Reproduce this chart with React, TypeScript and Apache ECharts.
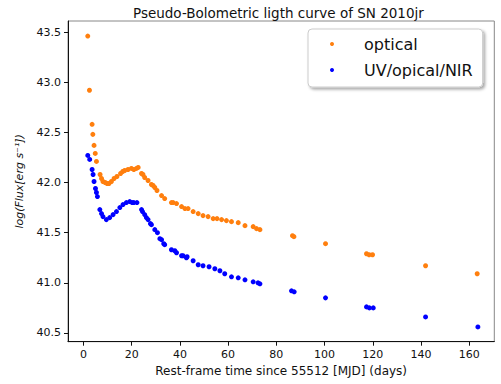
import React, { useEffect, useRef } from "react";
import * as echarts from "echarts";

const opticalDays = [1.8, 2.5, 3.6, 3.9, 4.4, 4.9, 5.4, 6.9, 7.5, 8.1, 9.0, 9.8, 10.6, 11.6, 12.7, 13.9, 15.4, 16.3, 17.1, 18.5, 19.9, 20.9, 22.0, 22.7, 24.1, 24.7, 25.4, 26.8, 28.2, 28.9, 29.6, 30.5, 32.4, 33.7, 36.5, 37.2, 38.6, 40.7, 42.1, 43.4, 45.5, 47.6, 49.6, 51.7, 53.8, 55.4, 57.3, 59.3, 61.4, 64.2, 67.0, 70.4, 71.8, 73.2, 86.7, 87.3, 100.4, 117.4, 118.5, 119.9, 141.9, 163.3];
const opticalLogL = [43.46, 42.92, 42.58, 42.48, 42.37, 42.29, 42.21, 42.08, 42.04, 42.01, 42.0, 41.99, 41.99, 42.01, 42.04, 42.06, 42.09, 42.11, 42.12, 42.13, 42.14, 42.13, 42.14, 42.15, 42.09, 42.08, 42.05, 42.02, 41.98, 41.97, 41.95, 41.92, 41.87, 41.84, 41.8, 41.8, 41.79, 41.76, 41.74, 41.74, 41.71, 41.69, 41.67, 41.66, 41.64, 41.64, 41.63, 41.62, 41.61, 41.6, 41.57, 41.56, 41.54, 41.53, 41.47, 41.46, 41.39, 41.29, 41.28, 41.28, 41.17, 41.09];

const uvoirDays = [1.8, 2.6, 3.6, 4.0, 4.4, 5.0, 5.4, 5.8, 6.8, 7.5, 8.1, 9.5, 10.9, 12.3, 13.7, 15.1, 16.4, 17.8, 19.2, 20.2, 20.9, 22.2, 24.1, 24.5, 25.4, 26.1, 26.8, 27.8, 28.2, 29.6, 30.7, 31.7, 32.4, 33.3, 33.7, 36.5, 37.9, 38.6, 40.7, 41.3, 42.7, 43.0, 45.5, 47.6, 49.6, 52.1, 54.5, 56.6, 58.6, 61.4, 64.2, 67.0, 70.4, 72.4, 73.2, 86.3, 87.4, 100.4, 117.4, 118.6, 120.2, 141.9, 163.6];
const uvoirLogL = [42.27, 42.23, 42.13, 42.08, 42.01, 41.94, 41.9, 41.86, 41.73, 41.69, 41.66, 41.63, 41.65, 41.68, 41.71, 41.75, 41.78, 41.8, 41.81, 41.8, 41.8, 41.8, 41.73, 41.71, 41.68, 41.65, 41.63, 41.59, 41.58, 41.53, 41.5, 41.44, 41.43, 41.39, 41.38, 41.33, 41.32, 41.3, 41.27, 41.27, 41.25, 41.26, 41.22, 41.18, 41.17, 41.16, 41.14, 41.12, 41.09, 41.06, 41.05, 41.03, 41.01, 41.0, 40.99, 40.92, 40.91, 40.85, 40.76, 40.75, 40.75, 40.66, 40.56];

const xTicks = [0, 20, 40, 60, 80, 100, 120, 140, 160];
const yTicks = [40.5, 41.0, 41.5, 42.0, 42.5, 43.0, 43.5];

const seriesNames = ["optical", "UV/opical/NIR"];
const seriesColors = ["#ff7f0e", "#0000ff"];

const FONT = "DejaVu Sans";

export default function App() {
  const ref = useRef<HTMLDivElement>(null);
  useEffect(() => {
    if (!ref.current) return;
    const chart = echarts.init(ref.current, undefined, { renderer: "svg" });
    const pairs = (xs: number[], ys: number[]) => xs.map((x, i) => [x, ys[i]]);
    chart.setOption({
      animation: false,
      backgroundColor: "#ffffff",
      textStyle: { fontFamily: FONT },
      title: {
        text: "Pseudo-Bolometric ligth curve of SN 2010jr",
        left: 128,
        top: 1,
        textStyle: { fontFamily: FONT, fontSize: 13.5, fontWeight: "normal", color: "#111" },
      },
      legend: {
        orient: "vertical",
        left: 308,
        top: 29,
        padding: [6, 10, 8, 22],
        itemWidth: 4,
        itemHeight: 4,
        itemGap: 8,
        icon: "circle",
        backgroundColor: "#ffffff",
        borderColor: "#cccccc",
        borderWidth: 1,
        borderRadius: 4,
        shadowColor: "rgba(0,0,0,0.35)",
        shadowBlur: 3,
        shadowOffsetX: 2,
        shadowOffsetY: 2,
        textStyle: { fontFamily: FONT, fontSize: 16, color: "#111", padding: [0, 0, 0, 25], lineHeight: 18 },
        data: seriesNames,
      },
      grid: {
        left: 68,
        right: 6.7,
        top: 21,
        bottom: 42.3,
        show: true,
        borderColor: "#888888",
        borderWidth: 1,
      },
      xAxis: {
        type: "value",
        min: -6.4,
        max: 170.4,
        name: "Rest-frame time since 55512 [MJD] (days)",
        nameLocation: "middle",
        nameGap: 23,
        nameTextStyle: { fontFamily: FONT, fontSize: 12, color: "#111" },
        axisLine: { show: true, onZero: false, lineStyle: { color: "#111", width: 1 } },
        axisTick: { show: true, length: 4, customValues: xTicks, lineStyle: { color: "#111" } },
        axisLabel: { customValues: xTicks, margin: 7, fontFamily: FONT, fontSize: 11, color: "#111" },
        splitLine: { show: false },
      },
      yAxis: {
        type: "value",
        min: 40.413,
        max: 43.61,
        name: "log(Flux[erg s⁻¹])",
        nameLocation: "middle",
        nameRotate: 90,
        nameGap: 43,
        nameTextStyle: { fontFamily: FONT, fontSize: 11, fontStyle: "italic", color: "#111" },
        axisLine: { show: true, onZero: false, lineStyle: { color: "#111", width: 1 } },
        axisTick: { show: true, length: 4, customValues: yTicks, lineStyle: { color: "#111" } },
        axisLabel: {
          customValues: yTicks,
          margin: 7,
          fontFamily: FONT,
          fontSize: 11,
          color: "#111",
          formatter: (v: number) => v.toFixed(1),
        },
        splitLine: { show: false },
      },
      series: [
        {
          name: seriesNames[0],
          type: "scatter",
          symbol: "circle",
          symbolSize: 5,
          itemStyle: { color: seriesColors[0], opacity: 1 },
          data: pairs(opticalDays, opticalLogL),
        },
        {
          name: seriesNames[1],
          type: "scatter",
          symbol: "circle",
          symbolSize: 5,
          itemStyle: { color: seriesColors[1], opacity: 1 },
          data: pairs(uvoirDays, uvoirLogL),
        },
      ],
    });
    return () => chart.dispose();
  }, []);
  return (
    <div
      ref={ref}
      style={{ position: "absolute", left: 0, top: 0, width: 501, height: 384 }}
    />
  );
}
